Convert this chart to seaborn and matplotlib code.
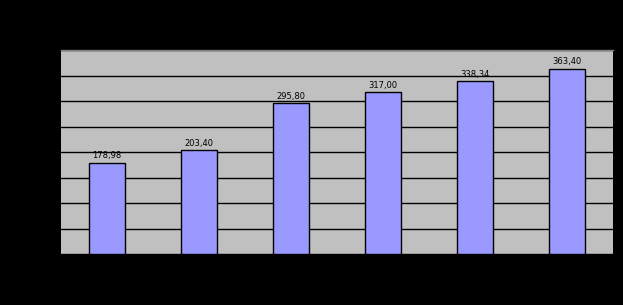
import matplotlib
matplotlib.use("Agg")
import matplotlib.pyplot as plt
import seaborn as sns
import pandas as pd

# values
categories = ["1", "2", "3", "4", "5", "6"]
values = [178.98, 203.40, 295.80, 317.00, 338.34, 363.40]
value_labels = ["178,98", "203,40", "295,80", "317,00", "338,34", "363,40"]
y_ticks = [0, 50, 100, 150, 200, 250, 300, 350, 400]

df = pd.DataFrame({"cat": categories, "val": values})

sns.set_style("white")
fig = plt.figure(figsize=(6.23, 3.05), dpi=100, facecolor="black")
ax = fig.add_axes([61 / 623, 51 / 305, 552 / 623, 204 / 305])
ax.set_facecolor("#C0C0C0")

sns.barplot(data=df, x="cat", y="val", ax=ax, color="#9999FF",
            saturation=1, width=0.4, edgecolor="black", linewidth=1, zorder=3)

ax.set_ylim(0, 400)
ax.set_yticks(y_ticks)
ax.yaxis.grid(True, color="black", linewidth=1, zorder=0)
ax.set_axisbelow(True)
ax.set_xlim(-0.5, len(categories) - 0.5)

for i, (v, lab) in enumerate(zip(values, value_labels)):
    ax.text(i, v + 5, lab, ha="center", va="bottom", fontsize=6, color="black", zorder=4)

for side in ["left", "right", "bottom"]:
    ax.spines[side].set_visible(False)
ax.spines["top"].set_color("#808080")
ax.spines["top"].set_linewidth(1)
ax.tick_params(axis="both", length=0, labelcolor="black")
ax.set_xticklabels([])
ax.set_yticklabels([])
ax.set_xlabel("")
ax.set_ylabel("")

fig.savefig("out.png", dpi=100, facecolor="black")
